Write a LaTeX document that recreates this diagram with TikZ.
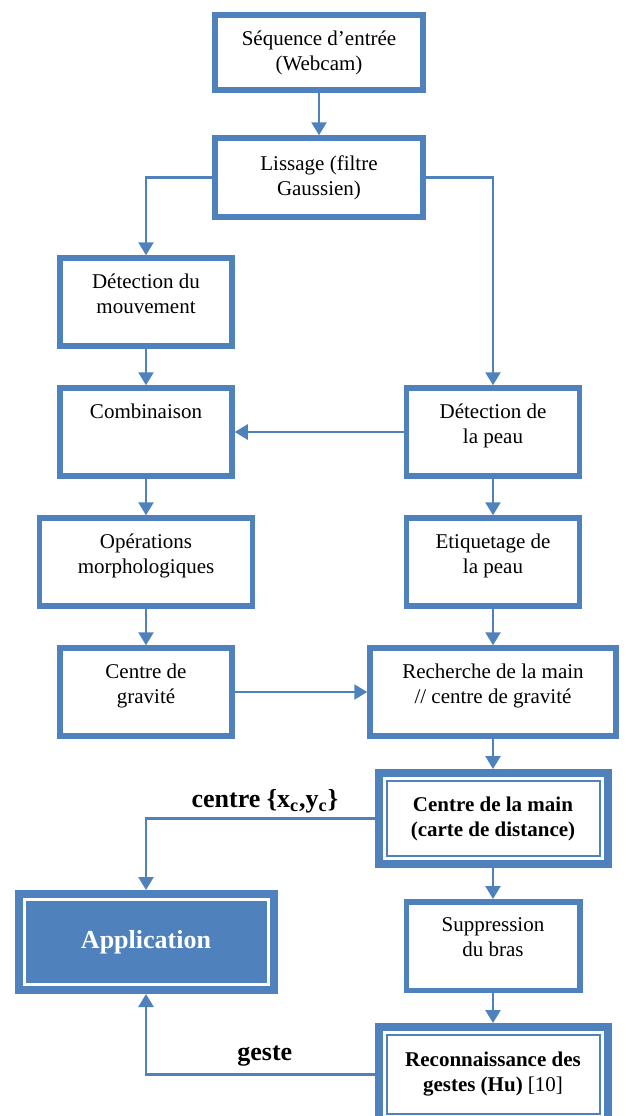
\documentclass[tikz,border=0pt]{standalone}
\usepackage{fontspec}
\setmainfont{Liberation Serif}
\usetikzlibrary{arrows.meta,positioning}
\definecolor{bleu}{RGB}{79,129,189}

\begin{document}
\begin{tikzpicture}[x=0.5pt,y=-0.5pt]
  \tikzstyle{bloc} = [rectangle,draw=bleu,fill=white,line width=2.75pt,align=center,inner sep=0pt,font=\fontsize{10.5}{12.5}\selectfont]
  \tikzstyle{haut} = [bloc,text depth=8.5pt]
  \tikzstyle{blocdouble} = [bloc,line width=4pt,font=\fontsize{10.5}{12.5}\selectfont\bfseries]
  \tikzstyle{fleche} = [-{Triangle[width=7.5pt,length=6.5pt]}, draw=bleu, line width=1.25pt]
  \tikzstyle{trait} = [draw=bleu, line width=1pt]
  \tikzstyle{legende} = [font=\fontsize{13}{15}\selectfont\bfseries, inner sep=1pt]
  \useasboundingbox (0,0) rectangle (627,1116);
  % colonne du haut
  \node[bloc,minimum width=104pt,minimum height=37.5pt] at (319,52.5) (seq) {Séquence d’entrée\\(Webcam)};
  \node[bloc,minimum width=104pt,minimum height=39.5pt] at (319,177.5) (lis) {Lissage (filtre\\Gaussien)};
  % colonne de gauche
  \node[haut,minimum width=86pt,minimum height=44pt] at (146,302) (mouv) {Détection du\\mouvement};
  \node[haut,minimum width=86pt,minimum height=44pt] at (146,432) (comb) {Combinaison\\\mbox{}};
  \node[haut,minimum width=106.5pt,minimum height=44pt] at (146,562) (morph) {Opérations\\morphologiques};
  \node[haut,minimum width=86pt,minimum height=44pt] at (146,692) (grav) {Centre de\\gravité};
  \node[fill=bleu,outer sep=0pt,minimum width=131.5pt,minimum height=52pt,font=\fontsize{13}{15}\selectfont\bfseries,text=white] at (146,942) (app) {Application};
  % colonne de droite
  \node[haut,minimum width=86.5pt,minimum height=44pt] at (493,432) (peau) {Détection de\\la peau};
  \node[haut,minimum width=86.5pt,minimum height=44pt] at (493,562) (etiq) {Etiquetage de\\la peau};
  \node[haut,minimum width=123pt,minimum height=44pt] at (493,692) (rech) {Recherche de la main\\// centre de gravité};
  \node[blocdouble,minimum width=114.5pt,minimum height=45.5pt] at (493,818.5) (cmain) {Centre de la main\\(carte de distance)};
  \node[haut,minimum width=86.75pt,minimum height=44.25pt] at (493,946) (supp) {Suppression\\du bras};
  \node[blocdouble,minimum width=114.5pt,minimum height=47.5pt] at (493,1074.5) (reco) {Reconnaissance des\\gestes (Hu) {\mdseries [10]}};
  % cadres interieurs
  \draw[trait] ([shift={(12,12)}]cmain.north west) rectangle ([shift={(-12,-12)}]cmain.south east);
  \draw[trait] ([shift={(12,12)}]reco.north west) rectangle ([shift={(-12,-12)}]reco.south east);
  \draw[draw=white,line width=1.5pt] ([shift={(9.5,9.5)}]app.north west) rectangle ([shift={(-9.5,-9.5)}]app.south east);
  % fleches
  \draw[fleche] (seq) -- (lis);
  \draw[fleche] (lis) -| (mouv);
  \draw[fleche] (lis) -| (peau);
  \draw[fleche] (mouv) -- (comb);
  \draw[fleche] (peau) -- (comb);
  \draw[fleche] (comb) -- (morph);
  \draw[fleche] (morph) -- (grav);
  \draw[fleche] (peau) -- (etiq);
  \draw[fleche] (etiq) -- (rech);
  \draw[fleche] (grav) -- (rech);
  \draw[fleche] (rech) -- (cmain);
  \draw[fleche] (cmain) -- (supp);
  \draw[fleche] (supp) -- (reco);
  \draw[fleche] (cmain) -| node[legende,above=1pt,pos=0.24] (lcentre) {centre \{x\textsubscript{c},y\textsubscript{c}\}} (app);
  \draw[fleche] (reco) -| node[legende,above=2.5pt,pos=0.24] (lgeste) {geste} (app);
\end{tikzpicture}
\end{document}
